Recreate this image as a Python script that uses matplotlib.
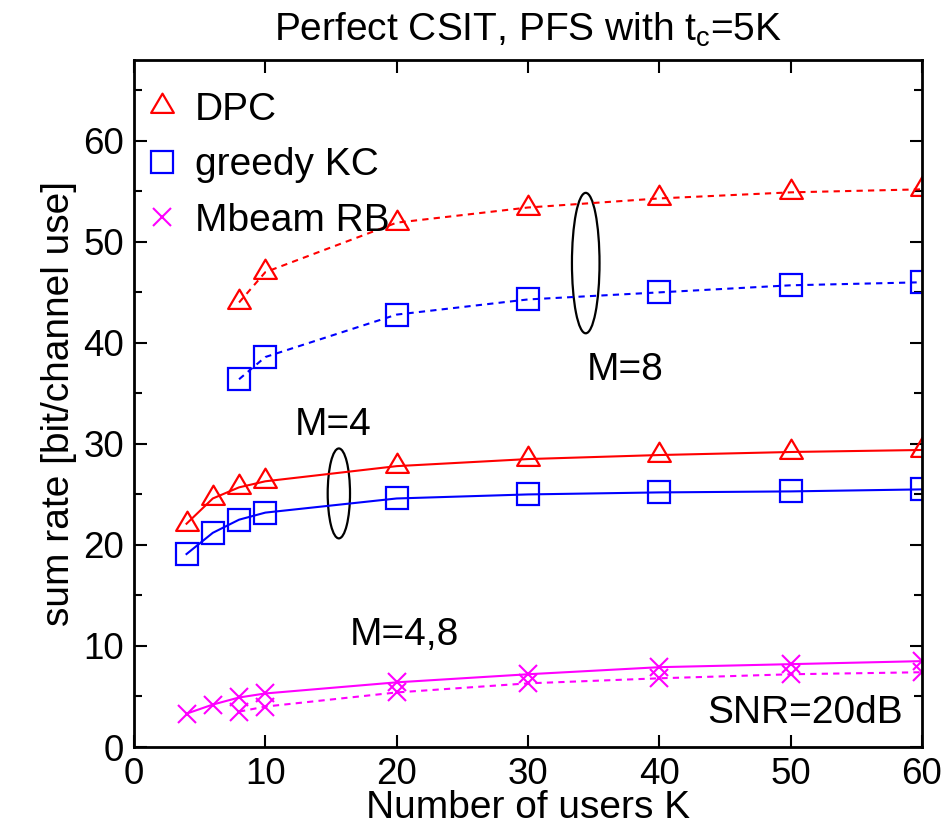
import matplotlib
matplotlib.use("Agg")
import matplotlib.pyplot as plt
from matplotlib.patches import Ellipse
from matplotlib.lines import Line2D
from matplotlib.path import Path
from matplotlib.ticker import MultipleLocator

plt.rcParams['font.family'] = ['Liberation Sans', 'DejaVu Sans']
plt.rcParams['mathtext.fontset'] = 'custom'
plt.rcParams['mathtext.rm'] = 'Liberation Sans'
plt.rcParams['mathtext.it'] = 'Liberation Sans'

# Data
K_m4 = [4, 6, 8, 10, 20, 30, 40, 50, 60]
K_m8 = [8, 10, 20, 30, 40, 50, 60]

dpc_m8 = [44.0, 47.0, 51.9, 53.4, 54.3, 54.9, 55.2]
kc_m8 = [36.4, 38.6, 42.8, 44.3, 45.0, 45.7, 46.0]
dpc_m4 = [22.1, 24.6, 25.7, 26.3, 27.8, 28.5, 28.9, 29.2, 29.4]
kc_m4 = [19.1, 21.2, 22.5, 23.2, 24.6, 25.0, 25.2, 25.3, 25.5]
rb_m4 = [3.3, 4.2, 4.9, 5.3, 6.4, 7.2, 7.9, 8.2, 8.5]
rb_m8 = [3.5, 4.0, 5.4, 6.3, 6.8, 7.2, 7.4]

legend_labels = ['DPC', 'greedy KC', 'Mbeam RB']
RED, BLUE, MAG = '#ff0000', '#0000ff', '#ff00ff'

# triangle marker centered on its centroid (gnuplot style)
tri = Path([(0, 13), (-11.5, -6.5), (11.5, -6.5), (0, 13)],
           [Path.MOVETO, Path.LINETO, Path.LINETO, Path.CLOSEPOLY])

fig = plt.figure(figsize=(9.47, 8.30), dpi=100)
ax = fig.add_axes([0.1415, 0.1, 0.832, 0.8277])

lw = 1.5
dash = (0, (3, 2.5))
tri_kw = dict(marker=tri, ms=18.5, mfc='none', mew=1.6, color=RED, lw=lw)
sq_kw = dict(marker='s', ms=15.5, mfc='none', mew=1.6, color=BLUE, lw=lw)
x_kw = dict(marker='x', ms=12.5, mew=1.5, color=MAG, lw=lw)

ax.plot(K_m8, dpc_m8, ls=dash, **tri_kw)
ax.plot(K_m8, kc_m8, ls=dash, **sq_kw)
ax.plot(K_m4, dpc_m4, ls='-', **tri_kw)
ax.plot(K_m4, kc_m4, ls='-', **sq_kw)
ax.plot(K_m4, rb_m4, ls='-', **x_kw)
ax.plot(K_m8, rb_m8, ls=dash, **x_kw)

ax.add_patch(Ellipse((15.6, 25.1), 1.7, 8.9, fill=False, ec='black', lw=1.6))
ax.add_patch(Ellipse((34.4, 47.9), 2.1, 13.9, fill=False, ec='black', lw=1.6))

fs = 28
ax.text(15.2, 31.9, 'M=4', fontsize=fs, ha='center', va='center')
ax.text(37.4, 37.3, 'M=8', fontsize=fs, ha='center', va='center')
ax.text(20.6, 11.1, 'M=4,8', fontsize=fs, ha='center', va='center')
ax.text(58.55, 3.4, 'SNR=20dB', fontsize=fs, ha='right', va='center')

ax.set_xlim(0, 60)
ax.set_ylim(0, 68)
ax.xaxis.set_major_locator(MultipleLocator(10))
ax.yaxis.set_major_locator(MultipleLocator(10))
ax.yaxis.set_minor_locator(MultipleLocator(5))
ax.tick_params(which='both', direction='in', top=True, right=True, labelsize=26.5, width=1.5)
ax.tick_params(which='major', length=9, pad=7)
ax.tick_params(which='minor', length=6)
for s in ax.spines.values():
    s.set_linewidth(2)

ax.set_xlabel('Number of users K', fontsize=fs, labelpad=-1)
ax.set_ylabel('sum rate [bit/channel use]', fontsize=fs, labelpad=5)
ax.set_title(r'Perfect CSIT, PFS with t$_\mathrm{c}$=5K', fontsize=fs, pad=14)

handles = [
    Line2D([], [], ls='none', marker=tri, ms=18.5, mfc='none', mew=1.6, color=RED),
    Line2D([], [], ls='none', marker='s', ms=15.5, mfc='none', mew=1.6, color=BLUE),
    Line2D([], [], ls='none', marker='x', ms=12.5, mew=1.5, color=MAG),
]
ax.legend(handles, legend_labels, loc='upper left', frameon=False, fontsize=fs,
          handlelength=0.6, handletextpad=0.55, labelspacing=0.5,
          borderaxespad=0.0, borderpad=0.2, bbox_to_anchor=(0.011, 0.965))

fig.savefig('out.png', dpi=100)
